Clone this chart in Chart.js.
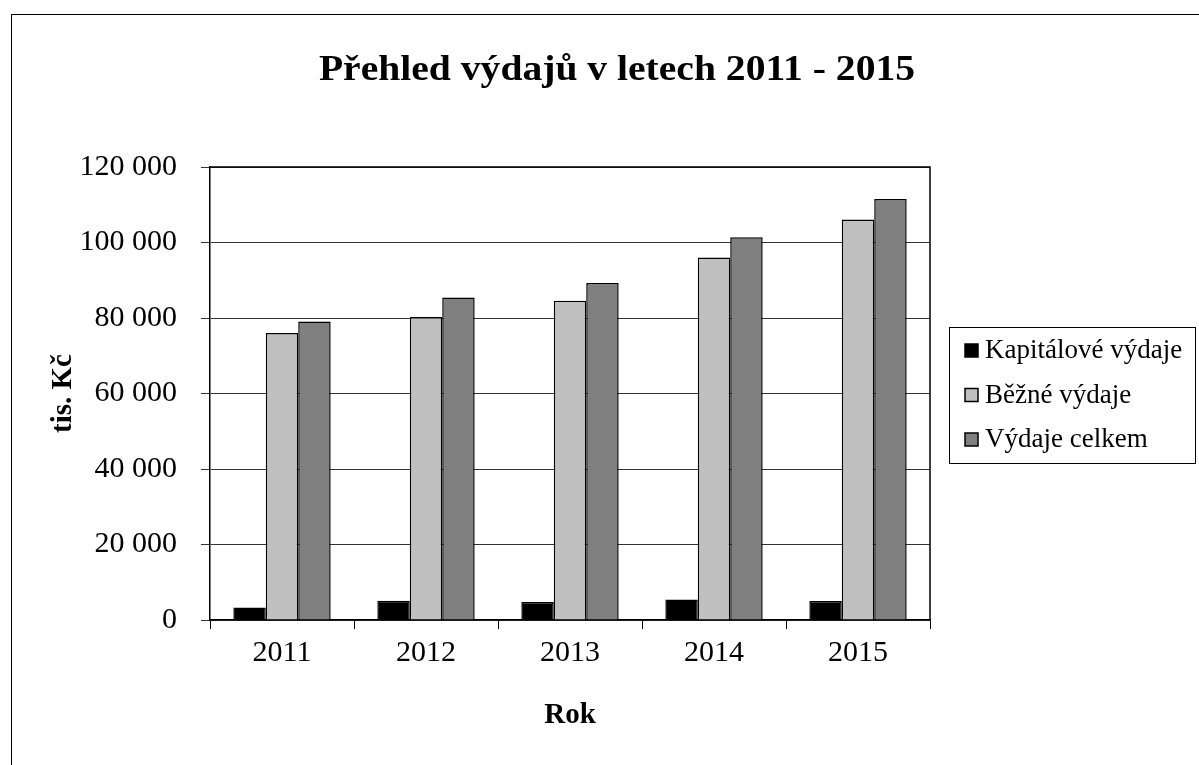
<!DOCTYPE html>
<html>
<head>
<meta charset="utf-8">
<script src="https://cdn.jsdelivr.net/npm/chart.js@4.4.0/dist/chart.umd.min.js"></script>
<style>
html,body{margin:0;padding:0;background:#fff;}
canvas{display:block;}
</style>
</head>
<body>
<canvas id="c" width="1199" height="765"></canvas>
<script>
const chartTitle = 'Přehled výdajů v letech 2011 - 2015';
const years = ['2011', '2012', '2013', '2014', '2015'];
const seriesNames = ['Kapitálové výdaje', 'Běžné výdaje', 'Výdaje celkem'];
const kapitalove = [3300, 5100, 4800, 5400, 5050];
const bezne = [76000, 80250, 84600, 96000, 106100];
const celkem = [79100, 85400, 89300, 101400, 111500];
const yTicks = [0, 20000, 40000, 60000, 80000, 100000, 120000];
const yTitle = 'tis. Kč';
const xTitle = 'Rok';
const colors = ['#000000', '#c0c0c0', '#808080'];

const SERIF = '"Liberation Serif", "Times New Roman", serif';

function fmt(v) {
  return String(v).replace(/\B(?=(\d{3})+(?!\d))/g, ' ');
}

const decor = {
  id: 'decor',
  afterDraw(chart) {
    const ctx = chart.ctx;
    const a = chart.chartArea;
    ctx.save();
    // outer border
    ctx.strokeStyle = '#000';
    ctx.lineWidth = 1;
    ctx.strokeRect(11.5, 14.5, 1300, 900);
    // plot border top & right
    ctx.lineWidth = 1.5;
    ctx.beginPath();
    ctx.moveTo(a.left, a.top);
    ctx.lineTo(a.right, a.top);
    ctx.lineTo(a.right, a.bottom);
    ctx.stroke();
    // title
    ctx.fillStyle = '#000';
    ctx.save();
    ctx.translate(617, 80);
    ctx.scale(1.1, 1);
    ctx.font = 'bold 36px ' + SERIF;
    ctx.textAlign = 'center';
    ctx.textBaseline = 'alphabetic';
    ctx.fillText(chartTitle, 0, 0);
    ctx.restore();
    // legend
    ctx.lineWidth = 1;
    ctx.strokeRect(949.5, 327.5, 246, 136);
    ctx.font = '27px ' + SERIF;
    ctx.textAlign = 'left';
    ctx.textBaseline = 'middle';
    chart.data.datasets.forEach((ds, i) => {
      const cy = 350 + i * 44.5;
      ctx.fillStyle = ds.backgroundColor;
      ctx.fillRect(965, cy - 6, 13, 13);
      ctx.strokeStyle = '#000';
      ctx.lineWidth = 1.5;
      ctx.strokeRect(965, cy - 6, 13, 13);
      ctx.fillStyle = '#000';
      ctx.fillText(ds.label, 985, cy + 1);
    });
    ctx.restore();
  }
};

new Chart(document.getElementById('c'), {
  type: 'bar',
  data: {
    labels: years,
    datasets: [
      { label: seriesNames[0], data: kapitalove, backgroundColor: colors[0] },
      { label: seriesNames[1], data: bezne, backgroundColor: colors[1] },
      { label: seriesNames[2], data: celkem, backgroundColor: colors[2] }
    ].map(d => Object.assign(d, {
      borderColor: '#000', borderWidth: 1.5, borderSkipped: 'bottom',
      categoryPercentage: 0.676, barPercentage: 1.0
    }))
  },
  options: {
    responsive: false,
    animation: false,
    devicePixelRatio: 1,
    layout: { padding: { left: 11, top: 167, right: 269, bottom: 0 } },
    plugins: {
      legend: { display: false },
      title: { display: false },
      tooltip: { enabled: false }
    },
    scales: {
      x: {
        afterFit(s) { s.height = 145; },
        grid: { display: true, drawOnChartArea: false, drawTicks: true, tickLength: 9, color: '#000', lineWidth: 1, offset: true },
        border: { display: true, color: '#000', width: 1.5 },
        ticks: { color: '#000', font: { family: SERIF, size: 30 }, padding: 6 },
        title: { display: true, text: xTitle, color: '#000', font: { family: SERIF, size: 29, weight: 'bold' }, padding: { top: 0, bottom: 32 } }
      },
      y: {
        min: 0, max: 120000,
        afterFit(s) { s.width = 199; },
        afterBuildTicks(s) { s.ticks = yTicks.map(v => ({ value: v })); },
        grid: { color: '#333', lineWidth: 1, tickLength: 9, drawTicks: true },
        border: { display: true, color: '#000', width: 1.5 },
        ticks: { color: '#000', font: { family: SERIF, size: 30 }, padding: 24, callback: v => fmt(v) },
        title: { display: true, text: yTitle, color: '#000', font: { family: SERIF, size: 29, weight: 'bold' }, padding: { top: 35, bottom: 0 } }
      }
    }
  },
  plugins: [decor]
});
</script>
</body>
</html>
